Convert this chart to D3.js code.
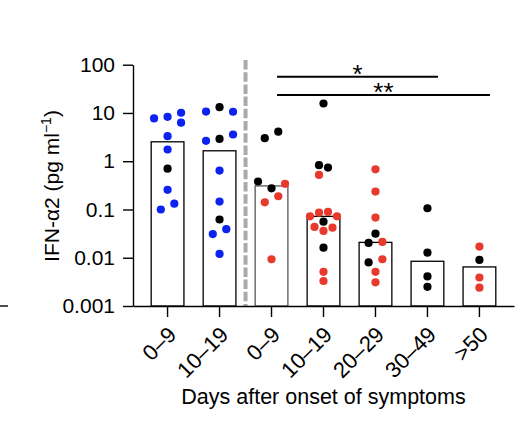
<!DOCTYPE html>
<html>
<head>
<meta charset="utf-8">
<script src="https://cdnjs.cloudflare.com/ajax/libs/d3/7.8.5/d3.min.js"></script>
<style>
  body { margin: 0; background: #fff; }
  svg { display: block; font-family: "Liberation Sans", Arial, Helvetica, sans-serif; }
  .axis path, .axis line { stroke: #000; stroke-width: 1.4; }
  .axis text { font-size: 21px; fill: #000; }
</style>
</head>
<body>
<svg id="chart" width="530" height="430"></svg>
<script>
// x categories (days after onset of symptoms), two cohorts split by the dashed line
var groupLabels = ["0–9", "10–19", "0–9", "10–19", "20–29", "30–49", ">50"];

// IFN-a2 values (pg/ml) per group, with the dot colour key of each patient
var cohort1Days0to9 = [[7.7, "blue"], [8.3, "blue"], [10.1, "blue"], [6.3, "blue"], [3.3, "blue"],
                       [1.75, "blue"], [0.70, "black"], [0.255, "blue"], [0.100, "blue"], [0.132, "blue"]];
var cohort1Days10to19 = [[10.7, "blue"], [13.2, "black"], [10.6, "blue"], [2.65, "blue"], [2.9, "black"],
                         [3.58, "blue"], [0.64, "blue"], [0.146, "blue"], [0.062, "black"], [0.031, "blue"],
                         [0.039, "blue"], [0.012, "blue"]];
var cohort2Days0to9 = [[3.0, "black"], [4.1, "black"], [0.38, "black"], [0.275, "black"], [0.34, "red"],
                       [0.141, "red"], [0.188, "red"], [0.0093, "red"]];
var cohort2Days10to19 = [[15.7, "black"], [0.83, "black"], [0.74, "black"], [0.52, "red"], [0.072, "red"],
                         [0.086, "red"], [0.089, "red"], [0.072, "red"], [0.0435, "red"], [0.056, "black"],
                         [0.042, "red"], [0.036, "red"], [0.0162, "black"], [0.0051, "red"], [0.0033, "red"]];
var cohort2Days20to29 = [[0.68, "red"], [0.235, "red"], [0.068, "red"], [0.0316, "black"], [0.0203, "black"],
                         [0.0213, "red"], [0.008, "black"], [0.0093, "red"], [0.0051, "red"], [0.0031, "red"]];
var cohort2Days30to49 = [[0.106, "black"], [0.0128, "black"], [0.0041, "black"], [0.0025, "black"]];
var cohort2Days50plus = [[0.017, "red"], [0.009, "black"], [0.0039, "red"], [0.0024, "red"]];

var groups = [cohort1Days0to9, cohort1Days10to19, cohort2Days0to9, cohort2Days10to19,
              cohort2Days20to29, cohort2Days30to49, cohort2Days50plus];

var yTicks = [0.001, 0.01, 0.1, 1, 10, 100];
var yTickLabels = ["0.001", "0.01", "0.1", "1", "10", "100"];

// significance brackets: [from group, to group, stars]
var brackets = [[2, 5, "*"], [2, 6, "**"]];

var svg = d3.select("#chart");

var y = d3.scaleLog().domain([0.001, 100]).range([306, 64.7]);
var x = d3.scaleBand().domain(d3.range(groups.length)).range([133, 514])
    .paddingInner(0.37).paddingOuter(0.35).align(0.5);
var colour = d3.scaleOrdinal().domain(["blue", "black", "red"]).range(["#0b22f0", "#000000", "#e8392d"]);
function xc(i) { return x(i) + x.bandwidth() / 2; }

// little stray rule at the far left, at the baseline
svg.append("line").attr("x1", 0).attr("x2", 8).attr("y1", y(0.001)).attr("y2", y(0.001))
    .attr("stroke", "#000").attr("stroke-width", 1.4);

// bars = medians
svg.append("g").selectAll("rect").data(groups).enter().append("rect")
    .attr("x", function(d, i) { return x(i); })
    .attr("width", x.bandwidth())
    .attr("y", function(d) { return y(d3.median(d, function(p) { return p[0]; })); })
    .attr("height", function(d) { return y(0.001) - y(d3.median(d, function(p) { return p[0]; })); })
    .attr("fill", "#fff")
    .attr("stroke", function(d, i) { return i == 2 ? "#555" : "#000"; })
    .attr("stroke-width", 1.3);

// dashed separator between the two cohorts
var sepX = (xc(1) + xc(2)) / 2;
svg.append("line").attr("x1", sepX).attr("x2", sepX).attr("y1", 60).attr("y2", y(0.001) + 1)
    .attr("stroke", "#aaaaaa").attr("stroke-width", 4).attr("stroke-dasharray", "9.5,2.7");

// axes
var yAxis = d3.axisLeft(y).tickValues(yTicks)
    .tickFormat(function(d, i) { return yTickLabels[i]; })
    .tickSize(10).tickSizeOuter(0).tickPadding(8);
svg.append("g").attr("class", "axis").attr("transform", "translate(133,0)").call(yAxis);

var xAxis = d3.axisBottom(x).tickFormat(function(d) { return groupLabels[d]; })
    .tickSize(11).tickSizeOuter(0);
var gx = svg.append("g").attr("class", "axis").attr("transform", "translate(0," + y(0.001) + ")").call(xAxis);
gx.selectAll("text").attr("y", null).attr("dy", null)
    .attr("text-anchor", "end")
    .style("font-size", "22px")
    .attr("transform", "translate(10,30) rotate(-45)");

// simple Prism-like scatter: rows of close values are spread side by side
var rowGap = 7, colStep = 13.8, maxWidth = 27, minDist = 8.9;
function swarm(vals) {
  var pts = vals.map(function(d, i) { return {v: d[0], c: d[1], i: i, y: y(d[0])}; });
  var sorted = pts.slice().sort(function(a, b) { return a.y - b.y || a.i - b.i; });
  var rows = [];
  sorted.forEach(function(p) {
    var row = rows[rows.length - 1];
    if (row && p.y - row[0].y < rowGap) row.push(p); else rows.push([p]);
  });
  var maxRow = d3.max(rows, function(r) { return r.length; });
  var step = maxRow > 1 ? Math.min(colStep, maxWidth / (maxRow - 1)) : colStep;
  var placed = [];
  var shifts = [0, 0.5, -0.5, 1, -1, 1.5, -1.5, 2, -2];
  rows.forEach(function(row) {
    row.sort(function(a, b) { return a.i - b.i; });
    var base = row.map(function(p, k) { return (k - (row.length - 1) / 2) * step; });
    for (var s = 0; s < shifts.length; s++) {
      var off = shifts[s] * step;
      var ok = row.every(function(p, k) {
        return placed.every(function(q) { return Math.hypot(base[k] + off - q.dx, p.y - q.y) >= minDist; });
      });
      if (ok || s == shifts.length - 1) {
        row.forEach(function(p, k) { p.dx = base[k] + off; placed.push(p); });
        break;
      }
    }
  });
  return pts;
}

groups.forEach(function(g, gi) {
  svg.append("g").selectAll("circle").data(swarm(g)).enter().append("circle")
      .attr("cx", function(p) { return xc(gi) + p.dx; })
      .attr("cy", function(p) { return p.y; })
      .attr("r", 4.1)
      .attr("fill", function(p) { return colour(p.c); });
});

// significance brackets
brackets.forEach(function(b, k) {
  var x1 = xc(b[0]) + 5.5, x2 = xc(b[1]) + 10.5, yy = y(100) + 12 + k * 18.3;
  svg.append("line").attr("x1", x1).attr("x2", x2).attr("y1", yy).attr("y2", yy)
      .attr("stroke", "#000").attr("stroke-width", 2);
  svg.append("text").attr("x", (x1 + x2) / 2).attr("y", yy + 6.3)
      .attr("text-anchor", "middle").attr("font-size", 26).text(b[2]);
});

// axis titles
var yt = svg.append("text").attr("text-anchor", "middle").attr("font-size", 21)
    .attr("transform", "translate(58.5,186) rotate(-90)");
yt.append("tspan").text("IFN-α2 (pg ml");
yt.append("tspan").attr("dy", -8).attr("font-size", 14).text("−1");
yt.append("tspan").attr("dy", 8).text(")");

svg.append("text").attr("x", xc(3)).attr("y", 403.5).attr("text-anchor", "middle")
    .attr("font-size", 21.5).text("Days after onset of symptoms");
</script>
</body>
</html>
